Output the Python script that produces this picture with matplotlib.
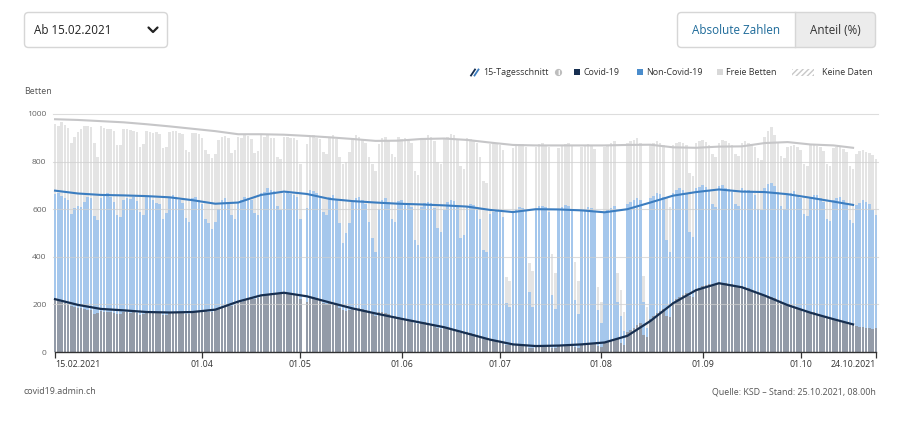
import datetime as dt
import numpy as np
import matplotlib
matplotlib.use("Agg")
import matplotlib.pyplot as plt
from matplotlib.patches import FancyBboxPatch, Rectangle, Circle

plt.rcParams['font.family'] = ['Open Sans', 'DejaVu Sans']

start = dt.date(2021, 2, 15)

# daily values, one row per week (Mon..Sun)
covid = [
    221, 216, 210, 206, 203, 192, 190,
    186, 184, 180, 178, 176, 160, 162,
    172, 170, 168, 166, 165, 158, 160,
    168, 166, 164, 166, 163, 156, 158,
    165, 164, 166, 163, 162, 155, 157,
    164, 165, 168, 166, 166, 158, 160,
    170, 172, 174, 176, 172, 168, 170,
    176, 182, 186, 190, 195, 192, 196,
    208, 212, 218, 222, 226, 224, 228,
    236, 240, 244, 246, 248, 244, 246,
    250, 248, 246, 244, 238, 222, np.nan,
    208, 230, 232, 228, 222, 205, 200,
    210, 206, 200, 185, 178, 172, 176,
    182, 186, 184, 180, 176, 166, 160,
    150, 168, 166, 162, 158, 148, 150,
    145, 144, 140, 136, 134, 120, 118,
    126, 124, 120, 116, 112, 100, 98,
    100, 102, 98, 94, 90, 80, 78,
    82, 78, 74, 70, 64, 56, 54,
    52, 48, 45, 40, 38, 30, 28,
    32, 30, 28, 27, 26, 18, 16,
    28, 27, 26, 26, 25, 18, 17,
    26, 27, 28, 28, 29, 20, 18,
    30, 32, 34, 35, 36, 24, 22,
    42, 46, 50, 55, 60, 36, 30,
    82, 92, 102, 112, 120, 70, 62,
    140, 150, 162, 172, 180, 150, 145,
    210, 222, 232, 240, 246, 236, 232,
    262, 270, 276, 282, 286, 280, 282,
    290, 292, 290, 286, 284, 276, 274,
    276, 272, 268, 262, 256, 246, 244,
    238, 236, 230, 226, 220, 210, 206,
    200, 196, 190, 186, 180, 170, 168,
    168, 166, 160, 156, 150, 142, 140,
    140, 136, 132, 128, 124, 116, 114,
    108, 106, 104, 102, 100, 98, 99,
]

# occupied beds (Covid-19 + Non-Covid-19)
belegt = [
    662, 668, 655, 648, 640, 578, 604,
    612, 608, 632, 650, 648, 572, 556,
    648, 662, 670, 652, 630, 576, 566,
    640, 645, 642, 650, 634, 590, 575,
    656, 650, 640, 628, 620, 560, 585,
    648, 660, 650, 640, 625, 562, 548,
    645, 650, 640, 620, 560, 540, 515,
    548, 600, 640, 645, 632, 575, 560,
    630, 640, 652, 648, 640, 585, 575,
    668, 672, 690, 680, 676, 612, 596,
    670, 668, 664, 660, 650, 560, np.nan,
    605, 680, 676, 668, 655, 590, 575,
    650, 660, 640, 540, 460, 500, 540,
    630, 648, 652, 640, 622, 545, 480,
    420, 600, 640, 645, 630, 560, 545,
    635, 640, 628, 625, 610, 470, 450,
    610, 625, 632, 628, 606, 520, 505,
    598, 630, 640, 635, 612, 480, 490,
    610, 622, 618, 598, 560, 430, 420,
    578, 590, 596, 588, 566, 205, 190,
    588, 602, 610, 606, 592, 252, 190,
    600, 612, 615, 608, 590, 240, 180,
    598, 610, 618, 612, 596, 220, 160,
    596, 602, 610, 604, 590, 176, 120,
    585, 596, 604, 612, 208, 150, 90,
    620, 632, 640, 648, 640, 210, 100,
    648, 655, 668, 662, 650, 470, 420,
    668, 680, 688, 682, 670, 505, 485,
    690, 694, 700, 692, 680, 620, 610,
    698, 702, 690, 684, 672, 622, 612,
    688, 682, 680, 672, 660, 600, 595,
    690, 705, 712, 698, 672, 615, 602,
    662, 670, 675, 660, 645, 580, 570,
    652, 660, 658, 648, 630, 560, 552,
    640, 646, 650, 638, 622, 556, 540,
    616, 628, 640, 632, 620, 598, 575,
]

# all beds (occupied + free)
total = [
    958, 948, 966, 952, 940, 880, 905,
    925, 938, 950, 948, 945, 880, 820,
    948, 940, 936, 935, 928, 868, 870,
    935, 938, 934, 930, 925, 860, 872,
    930, 926, 920, 925, 918, 856, 860,
    925, 928, 930, 922, 915, 850, 842,
    920, 922, 918, 900, 850, 830, 815,
    830, 890, 905, 908, 900, 838, 850,
    905, 900, 910, 906, 895, 838, 845,
    910, 905, 912, 900, 898, 820, 810,
    905, 902, 900, 898, 890, 790, np.nan,
    875, 905, 910, 900, 895, 840, 830,
    905, 910, 895, 820, 790, 800, 840,
    900, 910, 905, 895, 880, 820, 790,
    760, 875, 900, 905, 890, 830, 820,
    905, 895, 900, 890, 880, 760, 745,
    890, 900, 910, 905, 885, 800, 790,
    895, 905, 915, 910, 890, 780, 770,
    900, 895, 890, 880, 820, 720, 710,
    875, 880, 872, 868, 850, 316, 300,
    858, 870, 876, 872, 860, 374, 340,
    860, 872, 880, 870, 862, 410, 330,
    858, 866, 875, 878, 865, 380, 300,
    860, 868, 872, 866, 855, 275, 210,
    862, 868, 878, 885, 330, 260, 170,
    880, 885, 892, 898, 880, 320, 190,
    872, 878, 886, 880, 868, 650, 610,
    870, 878, 884, 880, 870, 750, 740,
    880, 885, 890, 884, 870, 830, 820,
    880, 890, 886, 880, 868, 830, 822,
    878, 885, 880, 872, 862, 815, 808,
    905, 930, 947, 910, 880, 822, 816,
    860, 866, 870, 860, 850, 790, 782,
    868, 872, 866, 860, 845, 790, 780,
    856, 862, 860, 852, 840, 780, 770,
    830, 845, 848, 842, 838, 828, 812,
]

# 15-day averages, read weekly (days since start)
avg_days = list(range(0, 239, 7)) + [244]
avg_covid = [222, 198, 181, 175, 168, 166, 168, 178, 212, 238, 249, 234,
             208, 183, 162, 142, 123, 104, 78, 52, 32, 25, 27, 32, 40, 68,
             130, 205, 260, 289, 272, 237, 197, 165, 138, 116]
avg_belegt = [678, 666, 660, 658, 655, 650, 638, 623, 628, 660, 674, 664,
              643, 634, 628, 623, 620, 616, 611, 597, 588, 600, 599, 595,
              587, 600, 628, 657, 672, 683, 674, 672, 663, 648, 632, 618]
avg_total = [978, 975, 970, 965, 957, 948, 938, 928, 915, 915, 913, 908,
             902, 895, 887, 888, 895, 897, 891, 880, 870, 868, 868, 868,
             868, 870, 871, 860, 858, 863, 864, 878, 882, 872, 868, 858]

tick_dates = [dt.date(2021, 2, 15), dt.date(2021, 4, 1), dt.date(2021, 5, 1),
              dt.date(2021, 6, 1), dt.date(2021, 7, 1), dt.date(2021, 8, 1),
              dt.date(2021, 9, 1), dt.date(2021, 10, 1), dt.date(2021, 10, 24)]
tick_labels = ['15.02.2021', '01.04', '01.05', '01.06', '01.07', '01.08',
               '01.09', '01.10', '24.10.2021']

C_COVID = '#939ba8'
C_NONCOVID = '#a5c7ec'
C_FREE = '#e4e4e4'
L_COVID = '#172f50'
L_NONCOVID = '#3b7dc0'
L_FREE = '#c6c6c8'

covid = np.array(covid, dtype=float)
belegt = np.array(belegt, dtype=float)
total = np.array(total, dtype=float)
non_covid = belegt - covid
free = total - belegt
days = np.arange(len(covid))
ok = ~np.isnan(covid)

fig = plt.figure(figsize=(9, 4.23), dpi=100)
W, H = 900, 423
ax = fig.add_axes([53.4 / W, (H - 352) / H, (877.6 - 53.4) / W, (352 - 114) / H])

bw = 0.78
ax.bar(days[ok], covid[ok], width=bw, color=C_COVID, lw=0, zorder=2)
ax.bar(days[ok], non_covid[ok], bottom=covid[ok], width=bw, color=C_NONCOVID, lw=0, zorder=2)
ax.bar(days[ok], free[ok], bottom=belegt[ok], width=bw, color=C_FREE, lw=0, zorder=2)

ax.plot(avg_days, avg_total, color=L_FREE, lw=1.5, zorder=4)
ax.plot(avg_days, avg_belegt, color=L_NONCOVID, lw=1.5, zorder=4)
ax.plot(avg_days, avg_covid, color=L_COVID, lw=1.6, zorder=4)

ax.set_xlim(-0.5, len(days) - 0.5)
ax.set_ylim(0, 1000)
ax.set_yticks(range(0, 1001, 200))
for v in range(200, 1001, 200):
    ax.axhline(v, color='#cfcfcf', lw=0.8, alpha=0.7, zorder=3, clip_on=False)

for s in ['top', 'right', 'left']:
    ax.spines[s].set_visible(False)
ax.spines['bottom'].set_color('#333333')
ax.spines['bottom'].set_linewidth(1.0)
ax.spines['bottom'].set_zorder(5)
ax.spines['bottom'].set_bounds(0, len(days) - 1)

tick_pos = [(d - start).days for d in tick_dates]
ax.set_xticks(tick_pos)
ax.set_xticklabels(tick_labels)
labels = ax.get_xticklabels()
labels[0].set_ha('left')
labels[-1].set_ha('right')
ax.tick_params(axis='x', length=4, width=0.9, color='#333333', labelsize=6.4,
               labelcolor='#333333', pad=1.5)
ax.tick_params(axis='y', length=0, labelsize=6.1, labelcolor='#666666', pad=5)
ax.patch.set_alpha(0)

# page furniture in pixel coordinates
ov = fig.add_axes([0, 0, 1, 1], zorder=-1)
ov.set_xlim(0, W)
ov.set_ylim(H, 0)
ov.axis('off')

ov.add_patch(FancyBboxPatch((24.5, 12.5), 143, 35, boxstyle='round,pad=0,rounding_size=4',
                            fc='white', ec='#d6d6d6', lw=1))
ov.text(34, 30, 'Ab 15.02.2021', fontsize=8.4, color='#222222', va='center', ha='left')
ov.plot([148.5, 153, 157.5], [27.5, 32, 27.5], color='#222222', lw=1.6,
        solid_capstyle='round', solid_joinstyle='round')

ov.add_patch(FancyBboxPatch((677.5, 12.5), 198, 35, boxstyle='round,pad=0,rounding_size=4',
                            fc='#ececec', ec='none'))
ov.add_patch(FancyBboxPatch((677.5, 12.5), 110, 35, boxstyle='round,pad=0,rounding_size=4',
                            fc='white', ec='none'))
ov.add_patch(Rectangle((780, 12.5), 15, 35, fc='white', ec='none'))
ov.plot([795, 795], [12.5, 47.5], color='#d6d6d6', lw=1)
ov.add_patch(FancyBboxPatch((677.5, 12.5), 198, 35, boxstyle='round,pad=0,rounding_size=4',
                            fc='none', ec='#d6d6d6', lw=1))
ov.text(736, 30, 'Absolute Zahlen', fontsize=8.4, color='#1d6a99', va='center', ha='center')
ov.text(835.5, 30, 'Anteil (%)', fontsize=8.4, color='#333333', va='center', ha='center')

# legend
ly = 72.5
fs = 6.4
ov.plot([471, 475], [75.5, 69.5], color=L_COVID, lw=1.3)
ov.plot([474.5, 478.5], [75.5, 69.5], color=L_NONCOVID, lw=1.3)
ov.text(483, ly, '15-Tagesschnitt', fontsize=fs, color='#333333', va='center')
ov.add_patch(Circle((558.5, ly), 3.6, fc='#bdbdbd', ec='none'))
ov.text(558.5, ly + 0.2, 'i', fontsize=5.0, color='white', va='center', ha='center',
        fontweight='bold', family='DejaVu Sans')
ov.add_patch(Rectangle((574, 69.5), 6, 6, fc=L_COVID, ec='none'))
ov.text(584, ly, 'Covid-19', fontsize=fs, color='#333333', va='center')
ov.add_patch(Rectangle((637, 69.5), 6, 6, fc='#4a8ccc', ec='none'))
ov.text(646, ly, 'Non-Covid-19', fontsize=fs, color='#333333', va='center')
ov.add_patch(Rectangle((717, 69.5), 6, 6, fc='#d8d8d8', ec='none'))
ov.text(726, ly, 'Freie Betten', fontsize=fs, color='#333333', va='center')
ov.add_patch(Rectangle((792, 69), 22, 7, fc='none', ec='#c8c8c8', lw=0, hatch='//////'))
ov.text(822, ly, 'Keine Daten', fontsize=fs, color='#333333', va='center')

ov.text(24, 92, 'Betten', fontsize=fs, color='#555555', va='center')

ov.text(24, 392, 'covid19.admin.ch', fontsize=fs, color='#555555', va='center')
ov.text(876, 392, 'Quelle: KSD \u2013 Stand: 25.10.2021, 08.00h', fontsize=fs,
        color='#555555', va='center', ha='right')

fig.savefig('out.png', dpi=100)
